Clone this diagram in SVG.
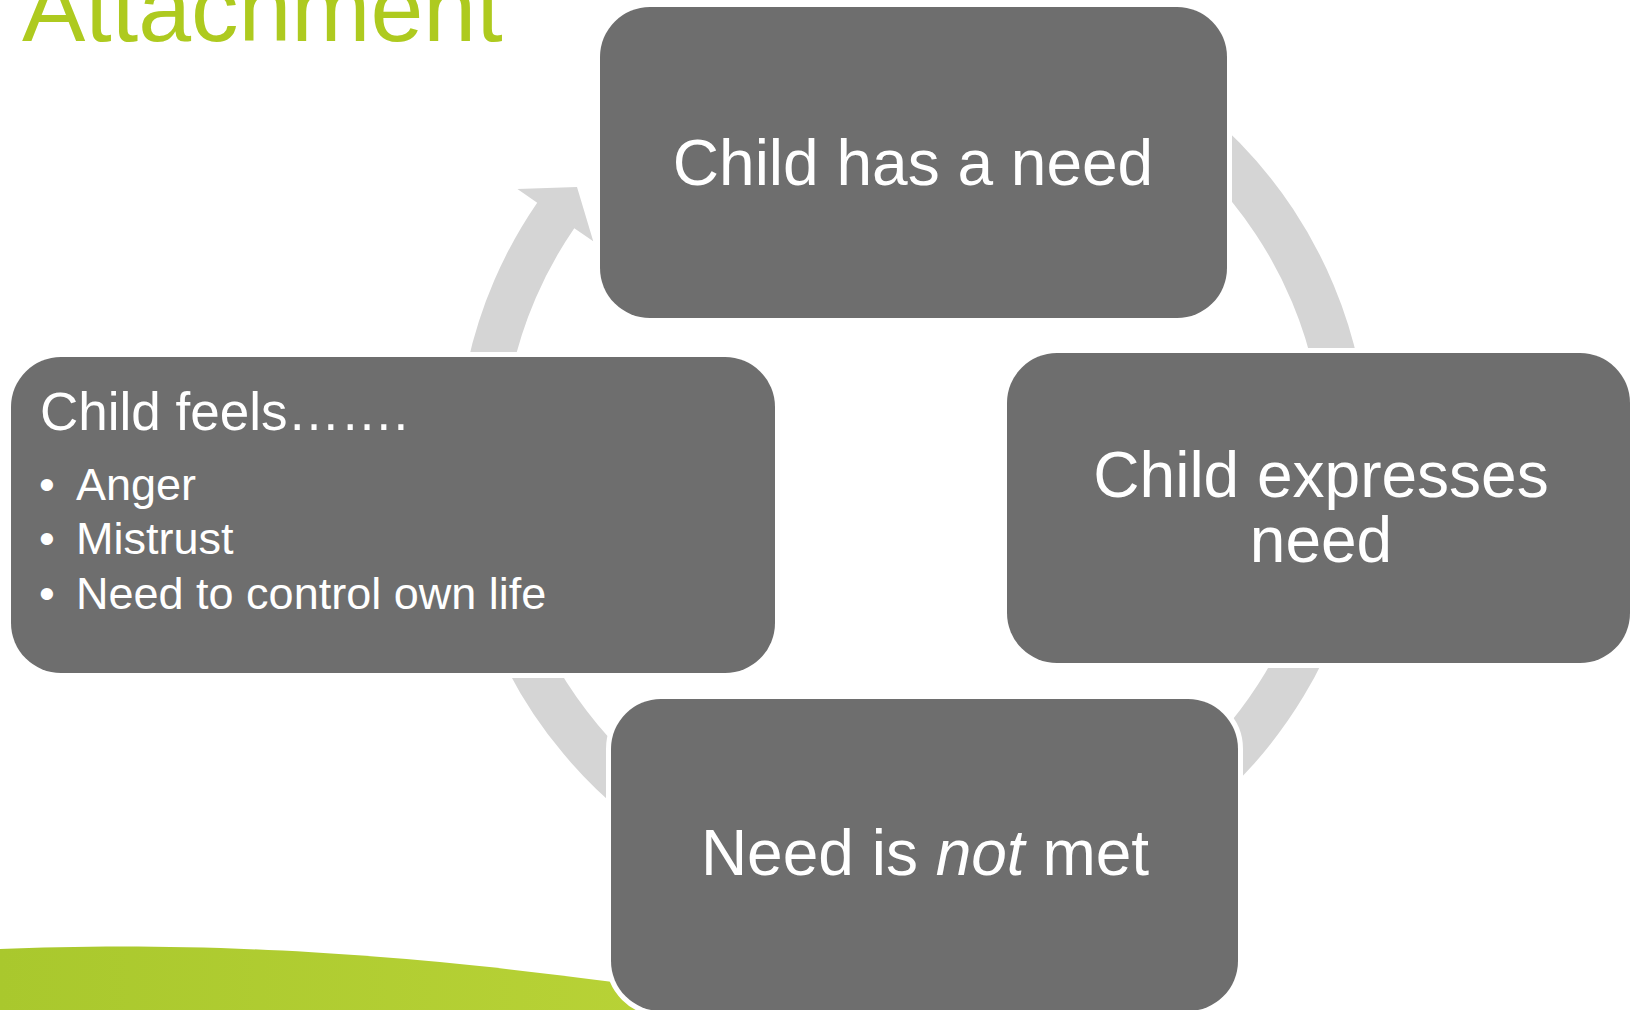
<svg xmlns="http://www.w3.org/2000/svg" width="1631" height="1010" viewBox="0 0 1631 1010">
  <style>
    .node { fill: #6E6E6E; stroke: #FFFFFF; stroke-width: 10; paint-order: stroke; }
    .arrow { fill: #D5D5D5; }
    .label { font-family: "Liberation Sans", Arial, sans-serif; fill: #FFFFFF; }
    .big { font-size: 64px; text-anchor: middle; }
    .title { font-family: "Liberation Sans", Arial, sans-serif; font-size: 95px; fill: #AECA1F; }
  </style>
  <defs>
    <linearGradient id="swooshFill" x1="0" y1="0" x2="1" y2="0">
      <stop offset="0" stop-color="#A9C82D"/>
      <stop offset="1" stop-color="#B8D236"/>
    </linearGradient>
  </defs>

  <rect width="1631" height="1010" fill="#FFFFFF"/>

  <!-- green band along the bottom-left edge -->
  <path d="M0,949 C150,943 350,945 650,987 L650,1010 L0,1010 Z" fill="url(#swooshFill)"/>

  <!-- title -->
  <text class="title" x="22" y="41">Attachment</text>

  <!-- circular arrows around centre (913,461), radii 411..456 -->
  <g id="connectors">
    <!-- top -> right -->
    <path class="arrow" d="M1174.55,87.47 A456,456 0 0 1 1359.04,366.19 L1382.51,361.20 L1343.08,405.91 L1292.52,380.33 L1315.02,375.55 A411,411 0 0 0 1148.74,124.33 Z"/>
    <!-- right -> bottom -->
    <path class="arrow" d="M1362.07,540.18 A456,456 0 0 1 1193.74,820.33 L1208.52,839.24 L1151.06,823.41 L1151.88,766.75 L1166.04,784.87 A411,411 0 0 0 1317.76,532.37 Z"/>
    <!-- bottom -> left -->
    <path class="arrow" d="M685,855.91 A456,456 0 0 1 484.50,616.96 L461.95,625.17 L494.77,575.41 L548.40,593.70 L526.79,601.57 A411,411 0 0 0 707.5,816.94 Z"/>
    <!-- left -> top -->
    <path class="arrow" d="M463.93,540.18 A456,456 0 0 1 537.20,202.72 L517.42,189.12 L576.99,186.95 L593.24,241.23 L574.28,228.21 A411,411 0 0 0 508.24,532.37 Z"/>
  </g>

  <g id="node-need">
    <rect class="node" x="600" y="7" width="627" height="311" rx="50"/>
    <text class="label big" x="913" y="185">Child has a need</text>
  </g>

  <g id="node-expresses">
    <rect class="node" x="1007" y="353" width="623" height="310" rx="50"/>
    <text class="label big" x="1321" y="497">Child expresses</text>
    <text class="label big" x="1321" y="562">need</text>
  </g>

  <g id="node-not-met">
    <rect class="node" x="611" y="699" width="627" height="312" rx="50"/>
    <text class="label big" x="925" y="875">Need is <tspan font-style="italic">not</tspan> met</text>
  </g>

  <g id="node-feels">
    <rect class="node" x="11" y="357" width="764" height="316" rx="50"/>
    <text class="label" x="40" y="430" font-size="53">Child feels…….</text>
    <g class="label" font-size="45">
      <text x="39" y="500">•</text>
      <text x="76" y="500">Anger</text>
      <text x="39" y="554">•</text>
      <text x="76" y="554">Mistrust</text>
      <text x="39" y="609">•</text>
      <text x="76" y="609">Need to control own life</text>
    </g>
  </g>
</svg>
